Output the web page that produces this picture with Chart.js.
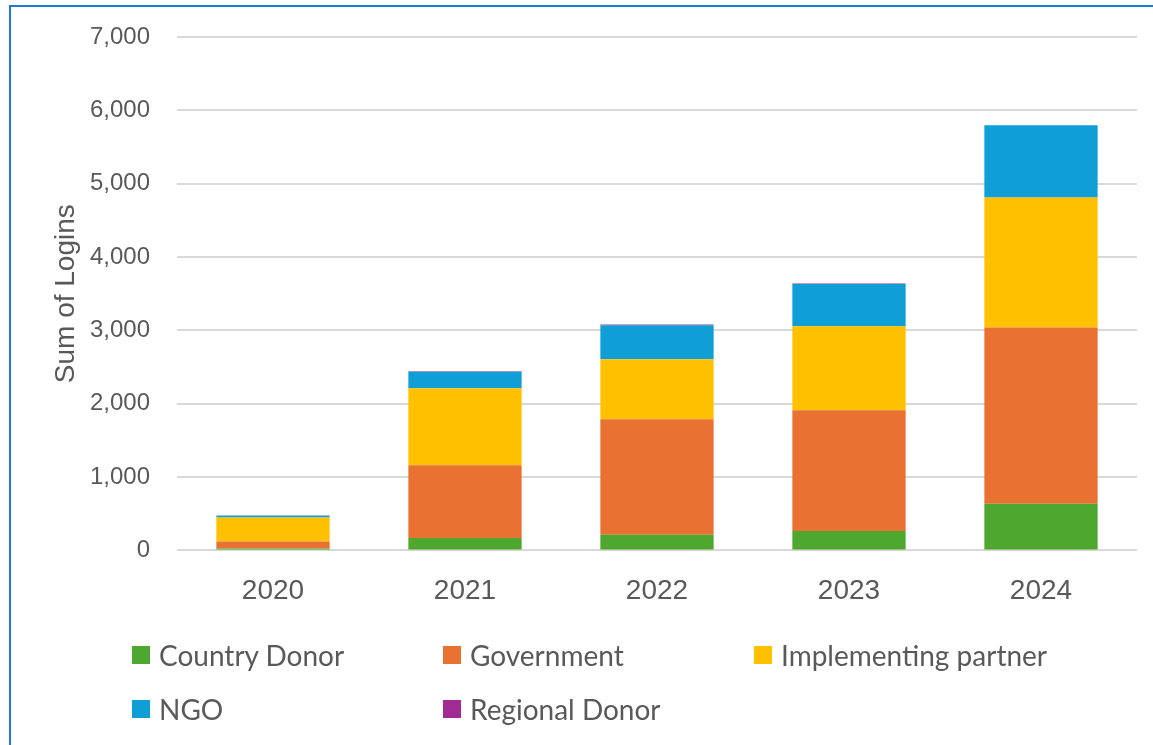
<!DOCTYPE html>
<html>
<head>
<meta charset="utf-8">
<script src="https://cdn.jsdelivr.net/npm/chart.js@4"></script>
<style>
  html, body { margin: 0; padding: 0; background: #fff; }
  body { width: 1153px; height: 745px; position: relative; overflow: hidden; }
  #frame { position: absolute; left: 9px; top: 5px; width: 1200px; height: 800px;
           border-left: 2px solid #1f78d1; border-top: 2px solid #1f78d1; box-sizing: border-box; }
  #wrap { position: absolute; left: 0; top: 0; width: 1153px; height: 745px; }
  #legend { position: absolute; left: 132px; top: 640px; width: 1000px; font-family: Lato, "Noto Sans", sans-serif;
            font-size: 28px; color: #595959; }
  .item { position: absolute; display: flex; align-items: center; height: 30px; white-space: nowrap; }
  .box { width: 18px; height: 18px; margin-right: 9px; }
</style>
</head>
<body>
<div id="frame"></div>
<div id="wrap"><canvas id="chart" width="1153" height="745"></canvas></div>
<div id="legend"></div>
<script>
const years        = ['2020', '2021', '2022', '2023', '2024'];
const countryDonor = [25, 168, 214, 263, 637];
const government   = [95, 992, 1573, 1647, 2401];
const implPartner  = [330, 1050, 819, 1146, 1774];
const ngo          = [27, 227, 465, 577, 986];
const regionalDonor = [0, 5, 8, 5, 0];

const seriesNames  = ['Country Donor', 'Government', 'Implementing partner', 'NGO', 'Regional Donor'];
const seriesColors = ['#4EA72E', '#E97132', '#FFC000', '#0F9ED5', '#A02B93'];
const seriesData   = [countryDonor, government, implPartner, ngo, regionalDonor];

const datasets = seriesNames.map((name, i) => ({
    label: name,
    data: seriesData[i],
    backgroundColor: seriesColors[i],
    borderWidth: 0,
    categoryPercentage: 1,
    barPercentage: 0.59
}));

const tickColor = '#595959';

const chart = new Chart(document.getElementById('chart'), {
    type: 'bar',
    data: { labels: years, datasets },
    options: {
        responsive: false,
        animation: false,
        layout: { padding: { top: 37, right: 16, bottom: 121, left: 0 } },
        plugins: { legend: { display: false }, tooltip: { enabled: false } },
        scales: {
            x: {
                stacked: true,
                grid: { display: false },
                border: { display: false },
                ticks: { color: tickColor, padding: 16, font: { family: '"Liberation Sans", Arial, sans-serif', size: 28 } }
            },
            y: {
                stacked: true,
                min: 0,
                max: 7000,
                ticks: {
                    stepSize: 1000,
                    padding: 27,
                    color: tickColor,
                    font: { family: '"Liberation Sans", Arial, sans-serif', size: 24 },
                    callback: v => v.toLocaleString('en-US')
                },
                grid: { color: '#d9d9d9', lineWidth: 2, drawTicks: false },
                border: { display: false },
                title: {
                    display: true,
                    text: 'Sum of Logins',
                    color: tickColor,
                    font: { family: '"Liberation Sans", Arial, sans-serif', size: 28 },
                    padding: { top: 49, bottom: 0 }
                },
                afterFit: scale => {
                    scale.width = 177;
                    scale.paddingTop = 0;
                    scale.paddingBottom = 0;
                }
            }
        }
    }
});

// legend in a fixed 3-column grid like the original
const legend = document.getElementById('legend');
seriesNames.forEach((name, i) => {
    const item = document.createElement('div');
    item.className = 'item';
    item.style.left = (i % 3) * 311 + 'px';
    item.style.top  = Math.floor(i / 3) * 54 + 'px';
    const box = document.createElement('span');
    box.className = 'box';
    box.style.background = chart.data.datasets[i].backgroundColor;
    const txt = document.createElement('span');
    txt.textContent = name;
    item.appendChild(box);
    item.appendChild(txt);
    legend.appendChild(item);
});
</script>
</body>
</html>
